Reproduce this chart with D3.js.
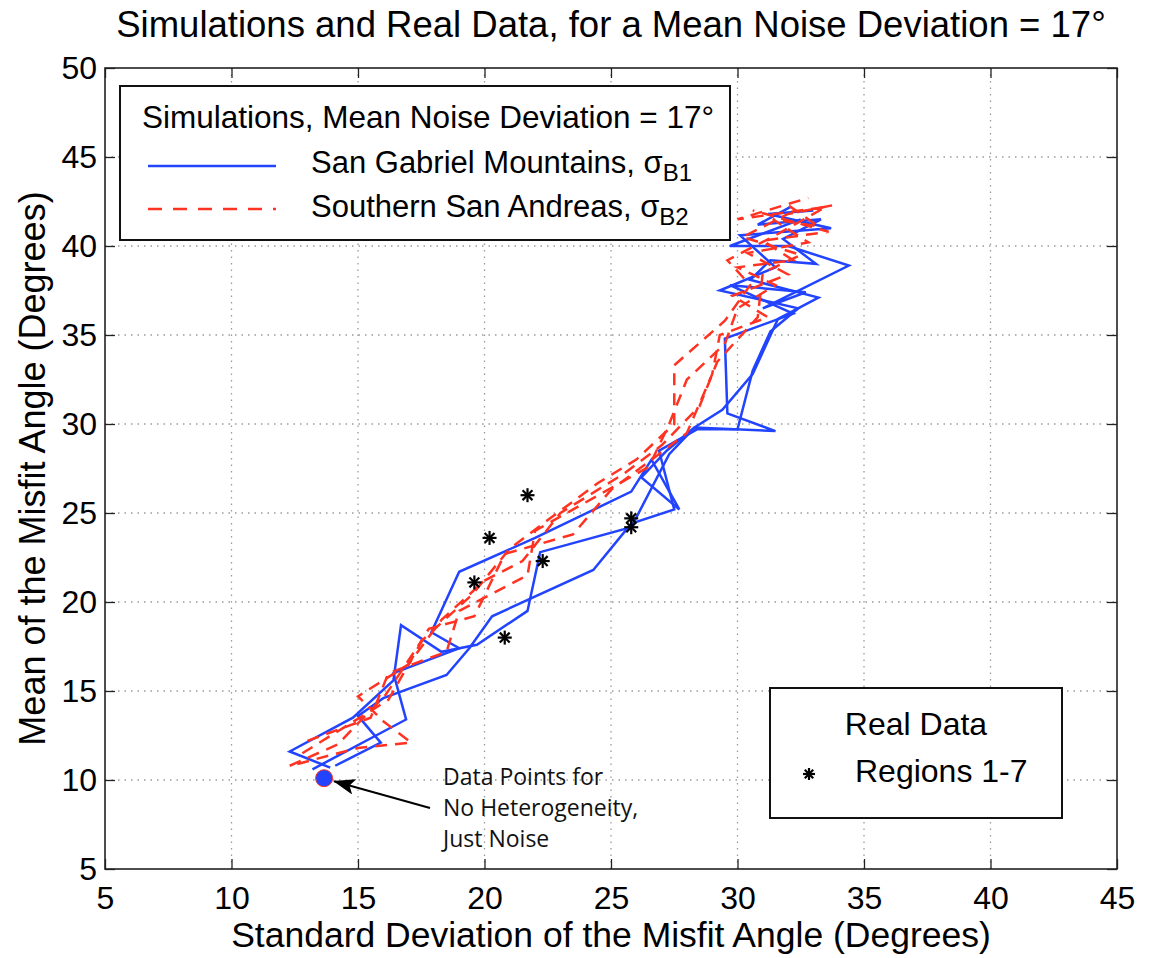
<!DOCTYPE html>
<html>
<head>
<meta charset="utf-8">
<script src="https://cdn.jsdelivr.net/npm/d3@7"></script>
<style>
  html, body { margin: 0; padding: 0; background: #fff; }
  svg { display: block; font-family: "Liberation Sans", Arial, Helvetica, sans-serif; }
</style>
</head>
<body>
<svg id="chart" width="1153" height="958"></svg>
<script>
// Axis ticks
const xTicks = [5, 10, 15, 20, 25, 30, 35, 40, 45];
const yTicks = [5, 10, 15, 20, 25, 30, 35, 40, 45, 50];

// Simulated runs, San Gabriel Mountains (sigma B1): [std dev, mean]
const blueRun1 = [[13.9,10.7],[12.3,11.6],[14.8,13.5],[16.4,15.6],[16.7,18.7],[18.3,17.2],[19.7,17.6],[21.7,19.5],[22.2,22.8],[25.8,24.2],[27.3,28.3],[28.3,29.8],[31.5,29.6],[29.6,30.6],[29.5,34.8],[32.2,36.2],[29.7,37.8],[32.7,37.4],[31.0,36.5],[34.4,38.9],[32.0,40.0],[29.7,40.0],[32.5,41.5]];
const blueRun2 = [[13.2,10.6],[16.9,13.4],[16.4,16.0],[19.0,17.4],[17.9,18.3],[19.0,21.7],[22.0,23.6],[25.8,26.2],[26.6,28.0],[27.7,25.2],[26.2,27.0],[27.2,28.5],[28.3,29.8],[29.4,30.8],[30.6,32.8],[31.6,35.9],[33.2,37.1],[30.5,38.1],[31.3,39.2],[33.1,39.0],[31.8,40.4],[33.3,41.5],[30.8,41.2],[32.1,42.2]];
const blueRun3 = [[14.1,10.8],[15.9,12.1],[15.0,13.6],[16.0,14.6],[18.5,15.9],[19.4,17.4],[20.3,19.2],[24.3,21.8],[25.8,24.4],[27.5,25.2],[26.9,28.5],[28.4,29.7],[30.0,29.7],[30.6,33.0],[31.3,35.2],[32.4,36.5],[29.3,37.5],[31.5,38.8],[30.1,40.6],[33.7,41.0],[31.2,41.8],[33.0,42.0]];

// Simulated runs, Southern San Andreas (sigma B2)
const redRun1 = [[12.3,10.8],[14.2,12.0],[16.1,14.8],[17.5,17.8],[19.5,20.4],[21.0,23.0],[22.5,24.6],[24.5,26.7],[26.0,28.0],[27.5,30.0],[27.5,33.3],[29.5,35.8],[30.5,37.8],[29.6,39.2],[31.5,40.6],[33.5,42.2],[30.0,41.5],[32.8,42.7]];
const redRun2 = [[12.6,10.9],[15.0,11.8],[17.1,12.1],[16.0,13.3],[15.0,14.7],[17.0,16.5],[18.3,19.0],[20.0,21.2],[21.5,22.3],[23.0,25.0],[25.5,27.2],[27.0,28.8],[28.5,31.0],[29.2,33.5],[30.8,36.0],[31.0,38.5],[32.5,39.5],[30.2,40.5],[32.0,41.8],[33.8,42.3]];
const redRun3 = [[13.0,12.2],[15.5,13.5],[16.2,16.0],[18.5,17.2],[19.0,19.5],[21.7,21.5],[22.0,24.0],[24.5,26.0],[26.5,27.6],[27.3,30.0],[28.0,32.5],[29.5,34.5],[30.0,36.5],[31.5,37.8],[30.0,38.8],[32.2,39.2],[31.0,40.3],[33.6,40.8],[30.6,42.0]];
const redRun4 = [[12.8,11.5],[14.5,13.0],[16.2,14.5],[17.8,18.5],[19.6,19.2],[20.8,22.7],[23.5,23.8],[25.0,26.3],[26.8,28.2],[28.0,29.5],[29.0,32.8],[29.3,35.0],[31.2,36.0],[29.8,37.2],[32.0,38.4],[30.4,39.6],[32.8,40.2],[31.4,41.5],[33.2,41.1],[31.8,42.5]];

// Real data, regions 1-7
const regions = [[21.7,26.0],[20.2,23.6],[19.6,21.1],[22.3,22.3],[20.8,18.0],[25.8,24.7],[25.8,24.2]];

// No heterogeneity, just noise
const noiseOnly = [[13.66,10.1]];

const blueRuns = [blueRun1, blueRun2, blueRun3];
const redRuns = [redRun1, redRun2, redRun3, redRun4];

const BLUE = "#2244ff";
const RED = "#ff3322";

const svg = d3.select("#chart");
const m = { left: 105, top: 68, right: 1117, bottom: 869 };

const x = d3.scaleLinear().domain([5, 45]).range([m.left, m.right]);
const y = d3.scaleLinear().domain([5, 50]).range([m.bottom, m.top]);

// Dotted grid
const grid = svg.append("g").attr("stroke", "#9a9a9a").attr("stroke-width", 1.3).attr("stroke-dasharray", "1.5,5");
xTicks.slice(1, -1).forEach(t => grid.append("line").attr("x1", x(t)).attr("x2", x(t)).attr("y1", m.top).attr("y2", m.bottom));
yTicks.slice(1, -1).forEach(t => grid.append("line").attr("y1", y(t)).attr("y2", y(t)).attr("x1", m.left).attr("x2", m.right));

// Axes with inward ticks on all four sides
const tickLen = 10;
const bottomAxis = svg.append("g").attr("transform", `translate(0,${m.bottom})`)
  .call(d3.axisBottom(x).tickValues(xTicks).tickSizeInner(-tickLen).tickSizeOuter(0).tickPadding(17));
const topAxis = svg.append("g").attr("transform", `translate(0,${m.top})`)
  .call(d3.axisTop(x).tickValues(xTicks).tickSizeInner(-tickLen).tickSizeOuter(0).tickFormat(""));
const leftAxis = svg.append("g").attr("transform", `translate(${m.left},0)`)
  .call(d3.axisLeft(y).tickValues(yTicks).tickSizeInner(-tickLen).tickSizeOuter(0).tickPadding(8));
const rightAxis = svg.append("g").attr("transform", `translate(${m.right},0)`)
  .call(d3.axisRight(y).tickValues(yTicks).tickSizeInner(-tickLen).tickSizeOuter(0).tickFormat(""));

[bottomAxis, topAxis, leftAxis, rightAxis].forEach(a => {
  a.select(".domain").remove();
  a.selectAll("line").attr("stroke", "#222").attr("stroke-width", 1.3);
  a.selectAll("text").attr("fill", "#000").style("font-size", "32px")
    .style("font-family", "'Liberation Sans', Arial, sans-serif");
});
bottomAxis.selectAll("text").attr("dy", "0.71em");

// Plot frame
svg.append("rect").attr("x", m.left).attr("y", m.top)
  .attr("width", m.right - m.left).attr("height", m.bottom - m.top)
  .attr("fill", "none").attr("stroke", "#222").attr("stroke-width", 1.6);

// Simulation runs
const line = d3.line().x(d => x(d[0])).y(d => y(d[1]));
const plot = svg.append("g");
blueRuns.forEach(run => plot.append("path").attr("d", line(run))
  .attr("fill", "none").attr("stroke", BLUE).attr("stroke-width", 2.5).attr("stroke-linejoin", "miter"));
redRuns.forEach(run => plot.append("path").attr("d", line(run))
  .attr("fill", "none").attr("stroke", RED).attr("stroke-width", 2.5).attr("stroke-dasharray", "12,8"));

// Asterisk marker
function asterisk(g, cx, cy, r) {
  const a = g.append("g").attr("transform", `translate(${cx},${cy})`).attr("stroke", "#000").attr("stroke-width", 2.2);
  [0, 45, 90, 135].forEach(ang => {
    const rad = ang * Math.PI / 180;
    a.append("line").attr("x1", -r * Math.cos(rad)).attr("y1", -r * Math.sin(rad))
      .attr("x2", r * Math.cos(rad)).attr("y2", r * Math.sin(rad));
  });
}
regions.forEach(d => asterisk(plot, x(d[0]), y(d[1]), 7));

// Noise-only point
plot.selectAll("circle.noise").data(noiseOnly).join("circle").attr("class", "noise")
  .attr("cx", d => x(d[0])).attr("cy", d => y(d[1])).attr("r", 8.5)
  .attr("fill", BLUE).attr("stroke", RED).attr("stroke-width", 1);

// Annotation with arrow
svg.append("defs").append("marker").attr("id", "arrowhead")
  .attr("viewBox", "0 0 22 16").attr("refX", 21).attr("refY", 8)
  .attr("markerWidth", 22).attr("markerHeight", 16).attr("markerUnits", "userSpaceOnUse")
  .attr("orient", "auto")
  .append("path").attr("d", "M0,0 L22,8 L0,16 L5,8 Z").attr("fill", "#000");
const nx = x(noiseOnly[0][0]), ny = y(noiseOnly[0][1]);
svg.append("line").attr("x1", 430).attr("y1", 808).attr("x2", nx + 10).attr("y2", ny + 3)
  .attr("stroke", "#000").attr("stroke-width", 2).attr("marker-end", "url(#arrowhead)");
const note = svg.append("text").attr("x", 443).attr("y", 785)
  .style("font-family", "'Open Sans', sans-serif").style("font-size", "23px").attr("fill", "#111");
["Data Points for", "No Heterogeneity,", "Just Noise"].forEach((t, i) =>
  note.append("tspan").attr("x", 443).attr("dy", i === 0 ? 0 : 31).text(t));

// Title and axis labels
svg.append("text").attr("x", (m.left + m.right) / 2).attr("y", 37).attr("text-anchor", "middle")
  .style("font-size", "36.5px").text("Simulations and Real Data, for a Mean Noise Deviation = 17°");
svg.append("text").attr("x", (m.left + m.right) / 2).attr("y", 947).attr("text-anchor", "middle")
  .style("font-size", "35.5px").text("Standard Deviation of the Misfit Angle (Degrees)");
svg.append("text").attr("transform", `translate(45,${(m.top + m.bottom) / 2}) rotate(-90)`)
  .attr("text-anchor", "middle").style("font-size", "36px").text("Mean of the Misfit Angle (Degrees)");

// Simulation legend
const lg = svg.append("g");
lg.append("rect").attr("x", 120).attr("y", 86).attr("width", 610).attr("height", 154)
  .attr("fill", "#fff").attr("stroke", "#111").attr("stroke-width", 2);
lg.append("text").attr("x", 142).attr("y", 128).style("font-size", "31.5px")
  .text("Simulations, Mean Noise Deviation = 17°");
lg.append("line").attr("x1", 148).attr("x2", 276).attr("y1", 166).attr("y2", 166)
  .attr("stroke", BLUE).attr("stroke-width", 2.5);
lg.append("line").attr("x1", 148).attr("x2", 276).attr("y1", 209).attr("y2", 209)
  .attr("stroke", RED).attr("stroke-width", 2.5).attr("stroke-dasharray", "14,11");
function sigmaLabel(yPos, label, sub) {
  const t = lg.append("text").attr("x", 311).attr("y", yPos).style("font-size", "31px");
  t.append("tspan").text(label + ", σ");
  t.append("tspan").attr("dy", 8).style("font-size", "24px").text(sub);
}
sigmaLabel(173, "San Gabriel Mountains", "B1");
sigmaLabel(217, "Southern San Andreas", "B2");

// Real data legend
const rg = svg.append("g");
rg.append("rect").attr("x", 770).attr("y", 688).attr("width", 292).attr("height", 130)
  .attr("fill", "#fff").attr("stroke", "#111").attr("stroke-width", 2);
rg.append("text").attr("x", 916).attr("y", 735).attr("text-anchor", "middle")
  .style("font-size", "32px").text("Real Data");
asterisk(rg, 809, 774, 6);
rg.append("text").attr("x", 855).attr("y", 782).style("font-size", "32px").text("Regions 1-7");
</script>
</body>
</html>
